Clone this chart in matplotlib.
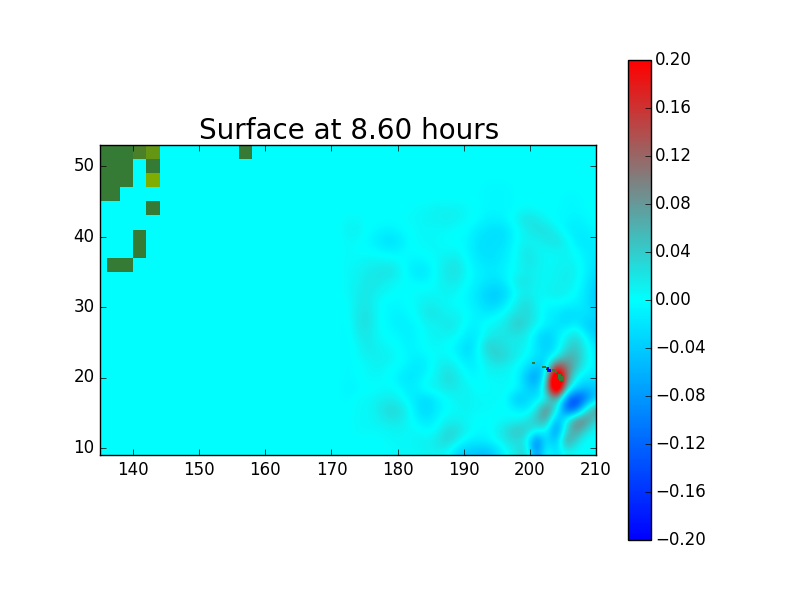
import numpy as np
import matplotlib
matplotlib.use('Agg')
import matplotlib.pyplot as plt
from matplotlib.colors import LinearSegmentedColormap
from matplotlib.patches import Rectangle
from matplotlib.ticker import FuncFormatter

plt.style.use('classic')

TITLE = 'Surface at 8.60 hours'
lons = [171 + 1.5 * i for i in range(27)]
lats = [53 - 1.5 * i for i in range(30)]
# surface height in hundredths of a metre, north to south
z = [
[0]*27,
[0]*27,
[0]*27,
[0]*27,
[0,0,0,0,0,0,0,0,0,0,0,0,0,0,0,-.5,-.5,-.5,0,0,0,0,0,0,0,0,0],
[0,0,0,0,0,0,0,0,0,0,0,0,0,0,0,-.5,-.5,-.5,0,0,0,0,0,-.5,-.5,0,0],
[0,0,0,0,0,0,0,0,.5,.5,1,1,1,.5,0,-.5,-.5,-.5,0,.5,0,0,0,-.5,-.5,0,0],
[0,.5,.5,0,0,0,0,.5,.5,1,1,1.5,1,.5,0,-1,-1,-.5,1,2.5,2,.5,-.5,-.5,-1,-.5,0],
[0,1,1,0,-.5,-1,-.5,0,.5,.5,.5,.5,0,0,-1.5,-2,-2.5,-2,0,1.5,2.5,2.5,1,-1,-1.5,-1,-.5],
[0,.5,.5,-.5,-1.5,-2.5,-2,-.5,.5,.5,.5,0,0,-.5,-2,-2.5,-2.5,-2,0,1,1,2,2.5,1,-1.5,-2,-1],
[0,.5,0,0,-.5,-1,-1,0,0,.5,.5,.5,.5,-.5,-2,-2.5,-2,-1.5,.5,2,1,.5,1,1,0,-1.5,-1.5],
[0,.5,.5,1,1,1,.5,-.5,-1,-.5,.5,1.5,2,0,-1.5,-2,-2,-1,.5,2,1.5,.5,.5,1,.5,-1,-2],
[0,.5,1,1.5,2,2.5,1.5,-.5,-2,-1.5,.5,2,2.5,.5,-1,-1.5,-1.5,-.5,.5,1.5,1,.5,1,1.5,1,-1,-2.5],
[0,.5,1,2,2,1,.5,0,-.5,-.5,.5,1.5,1.5,0,-1,-2,-2.5,-1,2,2,1,.5,1,1.5,.5,-1.5,-3.5],
[0,.5,1.5,2,1,.5,0,0,.5,.5,.5,1,.5,-.5,-2,-3.5,-4,-3,.5,1.5,.5,1,1.5,1,0,-2,-4],
[0,0,1.5,2,.5,-.5,-.5,0,.5,1.5,1,.5,0,-.5,-1.5,-3,-3.5,-1,1.5,3,1,-.5,0,-.5,-1,-2,-4],
[0,0,2,2.5,.5,-.5,-1,-.5,.5,2,2,1,1,0,-1,-1.5,-.5,1,2.5,3,1.5,-1,-1.5,-3,-2.5,-2,-3],
[0,-.5,2,2.5,.5,-.5,-1,-1,-.5,1,1,2,1.5,-.5,-1,.5,1,2,4.5,3,1,-1,-2,-2.5,-1,-4,-4],
[0,-.5,1.5,2,.5,0,-.5,-1,-.5,.5,1,1,.5,-1.5,-1.5,1,2,2,2,1.5,-2,-4,-2,1,3,-1,-4],
[0,-.5,.5,2,1,.5,0,-1,-.5,.5,.5,0,-1,-3,-1,4,3,2,1.5,1,-2,-4,-2,2.5,4.5,1,-2],
[0,-.5,.5,1,1.5,1,.5,-.5,-1,-.5,.5,.5,-.5,-2.5,-.5,2,4,3,1.5,0,-2,-3,0,6,6,1,-1.5],
[0,-.5,0,.5,1,.5,0,-1,-2,-1,1,2,1,-1,-1,1,1.5,1,0,-2,-5,-3,16,11,5,.5,-1],
[0,-.5,0,.5,.5,0,-1,-2,-1.5,0,1,3,2,0,-.5,.5,.5,.5,0,-5,-8,0,38,11,0,-2,-2],
[0,-1,-.5,0,0,.5,0,-1.5,-1,1,1,2,1.5,1,0,0,.5,.5,0,-3,-5,4,36,4,-3,-5,-4],
[0,-.5,.5,.5,1,1.5,1,-.5,-2,-3,-1,0,1,1,.5,.5,.5,0,-5,-3,-2,0,8,-10,-16,-11,-4],
[0,0,.5,.5,1.5,3,3,1,-2,-3,-1.5,0,.5,1,.5,.5,0,0,-1,-2,2,11,2,-13,-13,2,9],
[0,0,.5,.5,1,2,2,1,-1,-2,-.5,1,1,.5,0,0,0,.5,.5,2,5,8,-7,0,10,10,3],
[0,0,.5,.5,.5,.5,1,.5,.5,-.5,.5,3,3,1,0,-.5,1,3,5,4,1,0,-10,3,9,3,0],
[0,0,0,0,0,.5,.5,.5,1,1,2,3.5,1.5,-1,-1.5,-1,.5,2,3,1,-12,-1,-6,9,3,-.5,0],
[0,0,0,0,0,0,.5,.5,.5,1,1,.5,-3,-4,-4.5,-5,-3,0,2,4,-10,1,-3,1,0,0,0],
]
# 2-degree land cells: (west edge, south edge, kind)
land_cells = [
(135,51,'g'),(136,51,'g'),(138,51,'g'),(140,51,'m'),(142,51,'o'),(156,51,'g'),
(135,49,'g'),(136,49,'g'),(138,49,'g'),(142,49,'g'),
(135,47,'g'),(136,47,'g'),(138,47,'g'),(142,47,'y'),
(135,45,'g'),(136,45,'g'),
(142,43,'g'),
(140,39,'g'),(140,37,'g'),
(136,35,'g'),(138,35,'g'),
]
# fine cells around the islands: (west edge, south edge)
island_land = [(200.25,21.9),(200.5,21.9),(201.9,21.4),(202.15,21.4),(202.4,21.25),
 (203.3,20.9),(203.55,20.9),(203.8,20.65),
 (204.2,20.25),(204.45,20.25),(204.2,20.0),(204.45,20.0),(204.7,20.0),
 (204.2,19.75),(204.45,19.75),(204.7,19.75),(204.95,19.75),(204.45,19.5),(204.7,19.5)]
island_low = [(202.4,21.0),(202.65,21.0),(202.65,20.75),(202.9,20.75),(202.9,21.0),(202.65,21.25)]

colors = {'g': '#357a35', 'm': '#4a8028', 'o': '#649614', 'y': '#80ae00'}
cmap = LinearSegmentedColormap.from_list('surface', [(0, 0, 1), (0, 1, 1), (1, 0, 0)])

fig = plt.figure(figsize=(8, 6), dpi=100, facecolor='white')
ax = fig.add_axes([100/800, 1-455/600, 496/800, 310/600])
ax.set_facecolor(cmap(0.5))
data = np.array(z) * 0.01
im = ax.imshow(data, cmap=cmap, vmin=-0.2, vmax=0.2, aspect='auto', interpolation='bicubic',
               extent=[lons[0]-.75, lons[-1]+.75, lats[-1]-.75, lats[0]+.75], origin='upper')
for lon, lat, kind in land_cells:
    w = 1 if lon == 135 else 2
    ax.add_patch(Rectangle((lon, lat), w, 2, fc=colors[kind], ec='none', antialiased=False))
for lon, lat in island_low:
    ax.add_patch(Rectangle((lon, lat), .25, .25, fc=(0, 0, 1), ec='none', antialiased=False))
for lon, lat in island_land:
    ax.add_patch(Rectangle((lon, lat), .25, .25, fc=colors['g'], ec='none', antialiased=False))
ax.set_xlim(135, 210)
ax.set_ylim(9, 53)
ax.set_xticks(range(140, 211, 10))
ax.set_yticks(range(10, 51, 10))
ax.tick_params(labelsize=12)
ax.set_title(TITLE, fontsize=20, x=0.502, pad=4)

cax = fig.add_axes([627.5/800, 1-540/600, 23.5/800, 480/600])
cb = fig.colorbar(im, cax=cax, ticks=[round(-0.2 + 0.04*i, 2) for i in range(11)],
                  format=FuncFormatter(lambda v, _: f'{v:.2f}'.replace('-', '\u2212')))
cb.ax.tick_params(labelsize=12, pad=3)
fig.savefig('out.png', dpi=100)
